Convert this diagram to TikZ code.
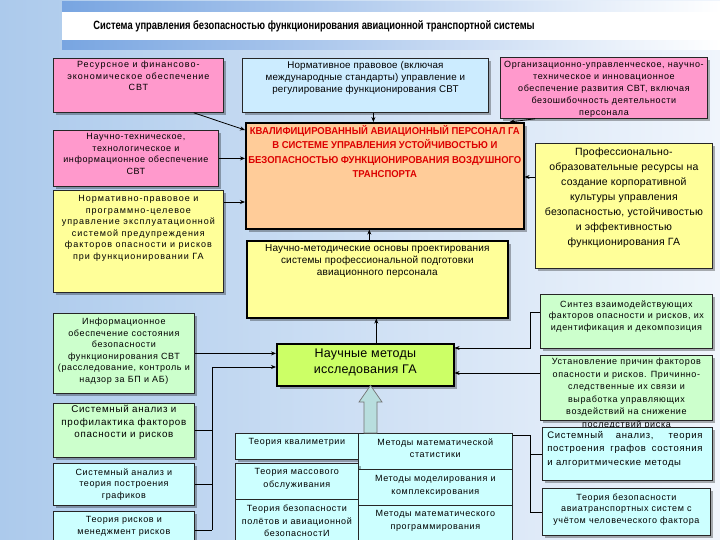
\documentclass[tikz,border=0pt]{standalone}
\usepackage{fontspec}
\setmainfont{Liberation Sans}[LetterSpace=7]
\newfontfamily\plainfont{Liberation Sans}[LetterSpace=2]
\newfontfamily\condfont[FakeStretch=0.78]{Liberation Sans}
\newfontfamily\capsfont[FakeStretch=0.95]{Liberation Sans}
\usetikzlibrary{arrows.meta,shadows,calc}
\definecolor{bgl}{RGB}{172,202,236}
\definecolor{bgr}{RGB}{240,245,252}
\definecolor{pinkc}{RGB}{255,153,204}
\definecolor{lblue}{RGB}{204,236,255}
\definecolor{orangec}{RGB}{255,204,153}
\definecolor{yellowc}{RGB}{255,255,153}
\definecolor{greenc}{RGB}{204,255,204}
\definecolor{limec}{RGB}{204,255,102}
\definecolor{cyanc}{RGB}{204,255,255}
\definecolor{tealc}{RGB}{184,222,222}
\definecolor{redt}{RGB}{220,0,0}
\newcommand\bxt[4]{\parbox[c][#2][t]{#1}{\centering\vspace*{#3}#4\par}}
\newcommand\wideLS{\addfontfeatures{LetterSpace=11}}
\begin{document}
\begin{tikzpicture}[x=1pt,y=-1pt,
  bx/.style={draw=black!85, line width=0.8pt, inner sep=0pt, anchor=north west,
    drop shadow={shadow xshift=3pt, shadow yshift=-3pt, fill=black, opacity=0.3},
    font=\fontsize{9}{11.5}\selectfont},
  thick box/.style={line width=1.6pt, draw=black},
  cell/.style={draw=black!85, line width=0.7pt, inner sep=0pt, anchor=north west,
    fill=cyanc, font=\fontsize{9}{12.5}\selectfont},
  cshadow/.style={drop shadow={shadow xshift=3pt, shadow yshift=-3pt, fill=black, opacity=0.3}},
  arr/.style={draw=black, line width=0.8pt, -{Stealth[length=5pt,width=4pt]}},
  ln/.style={draw=black, line width=0.8pt}]
\useasboundingbox (0,0) rectangle (720,540);
% background
\shade[left color=bgl, right color=bgr] (0,0) rectangle (720,540);
% title band
\shade[left color={rgb,255:red,120;green,165;blue,225}, right color=white] (62,2) rectangle (720,50);
\fill[white] (62,12) rectangle (720,40);
\node[font=\condfont\bfseries\fontsize{12}{14}\selectfont] (title) at (314,26)
  {Система управления безопасностью функционирования авиационной транспортной системы};

% left column
\node[bx, fill=pinkc, font=\wideLS\fontsize{9}{11.5}\selectfont] (r1) at (53,58) {\bxt{170pt}{54pt}{3pt}{Ресурсное и финансово-\\экономическое обеспечение\\СВТ}};
\node[bx, fill=pinkc] (r2) at (53,130) {\bxt{165pt}{56pt}{3pt}{Научно-техническое,\\технологическое и\\информационное обеспечение\\СВТ}};
\node[bx, fill=yellowc, font=\wideLS\fontsize{9}{11.5}\selectfont] (r3) at (53,190) {\bxt{170pt}{102pt}{5pt}{Нормативно-правовое и\\программно-целевое\\управление эксплуатационной\\системой предупреждения\\факторов опасности и рисков\\при функционировании ГА}};

% top middle and right
\node[bx, fill=lblue, font=\plainfont\fontsize{9.8}{12}\selectfont] (n4) at (242,58) {\bxt{246pt}{54pt}{3pt}{Нормативное правовое (включая\\международные стандарты) управление и\\регулирование функционирования СВТ}};
\node[bx, fill=pinkc, font=\fontsize{9}{12}\selectfont] (o5) at (500,57) {\bxt{207pt}{61pt}{4pt}{Организационно-управленческое, научно-\\техническое и инновационное\\обеспечение развития СВТ, включая\\безошибочность деятельности\\персонала}};

% central orange
\node[bx, thick box, fill=orangec, font=\capsfont\bfseries\fontsize{10}{14.5}\selectfont, text=redt] (q) at (245,122)
  {\bxt{278pt}{106pt}{2.5pt}{КВАЛИФИЦИРОВАННЫЙ АВИАЦИОННЫЙ ПЕРСОНАЛ ГА\\В СИСТЕМЕ УПРАВЛЕНИЯ УСТОЙЧИВОСТЬЮ И\\БЕЗОПАСНОСТЬЮ ФУНКЦИОНИРОВАНИЯ ВОЗДУШНОГО\\ТРАНСПОРТА}};

\node[bx, fill=yellowc, font=\plainfont\fontsize{10.5}{15}\selectfont] (p7) at (535,143) {\bxt{177pt}{125pt}{4pt}{Профессионально-\\образовательные ресурсы на\\создание корпоративной\\культуры управления\\безопасностью, устойчивостью\\и эффективностью\\функционирования ГА}};

\node[bx, thick box, fill=yellowc, font=\plainfont\fontsize{10}{11.8}\selectfont] (m8) at (246,240) {\bxt{261pt}{77pt}{4pt}{Научно-методические основы проектирования\\системы профессиональной подготовки\\авиационного персонала}};

% lower left
\node[bx, fill=greenc] (g9) at (53,313) {\bxt{141pt}{80pt}{5pt}{Информационное\\обеспечение состояния\\безопасности\\функционирования СВТ\\(расследование, контроль и\\надзор за БП и АБ)}};
\node[bx, fill=greenc, font=\fontsize{9.8}{12.5}\selectfont] (g10) at (53,403) {\bxt{141pt}{54pt}{2pt}{Системный анализ и\\профилактика факторов\\опасности и рисков}};
\node[bx, fill=cyanc] (g11) at (53,463) {\bxt{141pt}{42pt}{5pt}{Системный анализ и\\теория построения\\графиков}};
\node[bx, fill=cyanc] (g12) at (53,511) {\bxt{141pt}{37pt}{5pt}{Теория рисков и\\менеджмент рисков}};

% scientific methods
\node[bx, thick box, fill=limec, font=\plainfont\fontsize{12.5}{16.5}\selectfont] (s13) at (276,343) {\bxt{177pt}{42pt}{5pt}{Научные методы\\исследования ГА}};

% right lower
\node[bx, fill=greenc] (h14) at (540,294) {\bxt{172pt}{54pt}{6pt}{Синтез взаимодействующих\\факторов опасности и рисков, их\\идентификация и декомпозиция}};
\node[bx, fill=greenc, font=\fontsize{9}{12.5}\selectfont] (h15) at (540,355) {\bxt{172pt}{65pt}{3pt}{Установление причин факторов\\опасности и рисков. Причинно-\\следственные их связи и\\выработка управляющих\\воздействий на снижение\\последствий риска}};
\node[bx, fill=cyanc, font=\fontsize{9.5}{13.5}\selectfont] (h16) at (542,427) {\parbox[c][53pt][t]{170pt}{\vspace*{4pt}\hspace*{5pt}\parbox[t]{155pt}{\makebox[155pt][s]{Системный анализ, теория}\\\makebox[155pt][s]{построения графов состояния}\\и алгоритмические методы}}};
\node[bx, fill=cyanc] (h17) at (542,488) {\bxt{168pt}{47pt}{5pt}{Теория безопасности\\авиатранспортных систем с\\учётом человеческого фактора}};

% bottom grid
\node[cell, cshadow] (cA) at (235,433) {\bxt{123pt}{26pt}{5pt}{Теория квалиметрии}};
\node[cell] (cB) at (358,433) {\bxt{154pt}{36pt}{5pt}{Методы математической\\статистики}};
\node[cell, cshadow] (cC) at (235,463) {\bxt{123pt}{36pt}{5pt}{Теория массового\\обслуживания}};
\node[cell] (cD) at (358,469) {\bxt{154pt}{36pt}{6pt}{Методы моделирования и\\комплексирования}};
\node[cell] (cE) at (235,499) {\bxt{123pt}{45pt}{6pt}{Теория безопасности\\полётов и авиационной\\безопасностИ}};
\node[cell] (cF) at (358,505) {\bxt{154pt}{39pt}{5pt}{Методы математического\\программирования}};

% block arrow
\draw[fill=tealc, draw=black!55, line width=0.7pt]
  (364,433) -- (364,402) -- (359,402) -- (370.5,385.5) -- (382,402) -- (377,402) -- (377,433) -- cycle;

% connectors to the orange box
\draw[arr] ([xshift=-30pt]r1.south east) -- ([yshift=-8pt]q.north west);
\draw[arr] (r2.east) -- (r2.east -| q.west);
\coordinate (c3) at ([yshift=-12pt]r3.north east);
\draw[arr] (c3) -- (c3 -| q.west);
\draw[arr] ([xshift=8pt]n4.south) -- ([xshift=8pt]n4.south |- q.north);
\draw[arr] ([xshift=35pt]o5.south west) -- ([xshift=-15pt]q.north east);
\coordinate (c7) at ([yshift=-34pt]p7.north west);
\draw[arr] (c7) -- (c7 -| q.east);
\draw[arr] ([xshift=-8pt]m8.north) -- ([xshift=-8pt]m8.north |- q.south);
\draw[arr] ([xshift=11pt]s13.north) -- ([xshift=11pt]s13.north |- m8.south);

% left connectors
\draw[arr] (g9.east) -- (g9.east -| s13.west);
\coordinate (bl) at (212,367);
\draw[arr] (bl) -- (bl -| s13.west);
\draw[ln] (bl) -- (bl |- g12.east);
\draw[ln] (g10.east) -- (g10.east -| bl);
\draw[ln] (g11.east) -- (g11.east -| bl);
\draw[ln] (g12.east) -- (g12.east -| bl);

% right connectors
\coordinate (br1) at ([yshift=9pt]h14.west);
\coordinate (rb) at (530,348);
\draw[arr] (br1) -| (rb) -- (rb -| s13.east);
\coordinate (c15) at ([yshift=-18pt]h15.north west);
\draw[arr] (c15) -- (c15 -| s13.east);
\coordinate (rb2) at (530,435);
\draw[ln] (cB.north east |- rb2) -- (rb2) -- (rb2 |- h17.west) -- (h17.west);
\draw[ln] (rb2 |- h16.west) -- (h16.west);
\end{tikzpicture}
\end{document}
